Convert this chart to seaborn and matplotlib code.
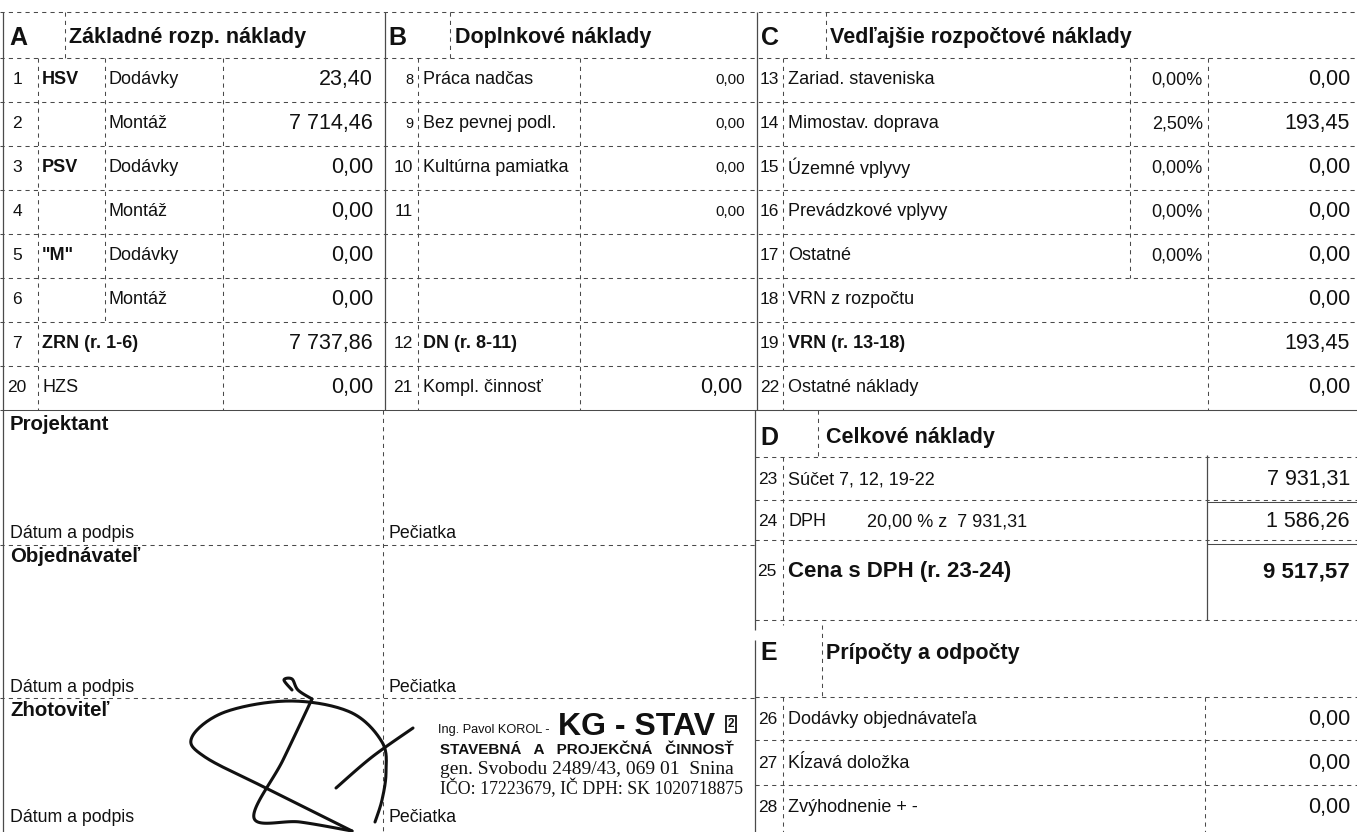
import numpy as np
import matplotlib
matplotlib.use("Agg")
import matplotlib.pyplot as plt
import seaborn as sns

A_NUM = ["1", "2", "3", "4", "5", "6", "7", "20"]
A_GROUP = ["HSV", "", "PSV", "", '"M"', "", "ZRN (r. 1-6)", "HZS"]
A_ITEM = ["Dodávky", "Montáž", "Dodávky", "Montáž", "Dodávky", "Montáž", "", ""]
A_VAL = [23.40, 7714.46, 0.00, 0.00, 0.00, 0.00, 7737.86, 0.00]

B_NUM = ["8", "9", "10", "11", "", "", "12", "21"]
B_LABEL = ["Práca nadčas", "Bez pevnej podl.", "Kultúrna pamiatka", "", "", "",
           "DN (r. 8-11)", "Kompl. činnosť"]
B_VAL = [0.00, 0.00, 0.00, 0.00, None, None, None, 0.00]

C_NUM = ["13", "14", "15", "16", "17", "18", "19", "22"]
C_LABEL = ["Zariad. staveniska", "Mimostav. doprava", "Územné vplyvy",
           "Prevádzkové vplyvy", "Ostatné", "VRN z rozpočtu", "VRN (r. 13-18)",
           "Ostatné náklady"]
C_PCT = [0.00, 2.50, 0.00, 0.00, 0.00, None, None, None]
C_VAL = [0.00, 193.45, 0.00, 0.00, 0.00, 0.00, 193.45, 0.00]

D_NUM = ["23", "24", "25"]
D_LABEL = ["Súčet 7, 12, 19-22", "DPH", "Cena s DPH (r. 23-24)"]
D_VAL = [7931.31, 1586.26, 9517.57]
DPH_RATE = 20.00

E_NUM = ["26", "27", "28"]
E_LABEL = ["Dodávky objednávateľa", "Kĺzavá doložka", "Zvýhodnenie + -"]
E_VAL = [0.00, 0.00, 0.00]

PARTIES = ["Projektant", "Objednávateľ", "Zhotoviteľ"]

# --- helpers ----------------------------------------------------------------
def fmt(v):
    return f"{v:,.2f}".replace(",", " ").replace(".", ",")

sns.set_theme(style="white")
plt.rcParams["font.family"] = ["Liberation Sans", "DejaVu Sans"]

fig = plt.figure(figsize=(13.57, 8.32), dpi=100)
ax = fig.add_axes([0, 0, 1, 1])
ax.set_xlim(0, 1357)
ax.set_ylim(832, 0)
ax.axis("off")

INK = "#111111"
LINE = "#4a4a4a"
DASH = (0, (4, 4))


def hline(y, x0, x1, solid=False, lw=0.75):
    ax.plot([x0, x1], [y, y], color=LINE, lw=lw,
            linestyle="-" if solid else DASH, solid_capstyle="butt")


def vline(x, y0, y1, solid=False, lw=0.75):
    ax.plot([x, x], [y0, y1], color=LINE, lw=lw,
            linestyle="-" if solid else DASH, solid_capstyle="butt")


def txt(x, y, s, size=13, bold=False, ha="left", **kw):
    ax.text(x, y, s, fontsize=size, fontweight="bold" if bold else "normal",
            ha=ha, va="center", color=INK, **kw)


# --- upper block: A, B, C ---------------------------------------------------
top, pitch = 58, 44
rows_y = [top + pitch * (i + 0.5) for i in range(len(A_NUM))]
bottom = top + pitch * len(A_NUM)

hline(12, 0, 1357)
hline(top, 0, 1357)
for i in range(1, len(A_NUM) + 1):
    hline(top + pitch * i, 0, 1357, solid=(i == len(A_NUM)))

vline(3, 12, 832, solid=True, lw=0.9)
vline(385, 12, bottom, solid=True, lw=0.9)
vline(757, 12, bottom, solid=True, lw=0.9)
# header separators
vline(65, 12, top)
vline(450, 12, top)
vline(826, 12, top)
# A columns
vline(38, top, bottom)
vline(105, top, top + pitch * 6)
vline(223, top, bottom)
# B columns
vline(418, top, bottom)
vline(580, top, bottom)
# C columns
vline(783, top, bottom)
vline(1130, top, top + pitch * 5)
vline(1208, top, bottom)

txt(9, 38, "A", size=18, bold=True)
txt(69, 38, "Základné rozp. náklady", size=15.5, bold=True)
txt(388, 38, "B", size=18, bold=True)
txt(455, 38, "Doplnkové náklady", size=15.5, bold=True)
txt(761, 38, "C", size=18, bold=True)
txt(830, 38, "Vedľajšie rozpočtové náklady", size=15.5, bold=True)

for i, y in enumerate(rows_y):
    # A
    txt(17, y, A_NUM[i], size=12.5, ha="center")
    txt(42, y, A_GROUP[i], size=13, bold=A_GROUP[i] not in ("", "HZS"))
    txt(109, y, A_ITEM[i], size=13)
    txt(373, y, fmt(A_VAL[i]), size=15.5, ha="right")
    # B
    small = B_NUM[i] in ("8", "9")
    txt(413, y, B_NUM[i], size=10.5 if small else 12.5, ha="right")
    txt(423, y, B_LABEL[i], size=13, bold=B_LABEL[i].startswith("DN"))
    if B_VAL[i] is not None:
        if B_NUM[i] == "21":
            txt(742, y, fmt(B_VAL[i]), size=15.5, ha="right")
        else:
            txt(745, y, fmt(B_VAL[i]), size=11, ha="right")
    # C
    txt(779, y, C_NUM[i], size=12.5, ha="right")
    txt(788, y, C_LABEL[i], size=13, bold=C_LABEL[i].startswith("VRN ("))
    if C_PCT[i] is not None:
        txt(1203, y, fmt(C_PCT[i]) + "%", size=13, ha="right")
    txt(1350, y, fmt(C_VAL[i]), size=15.5, ha="right")

# --- lower left: signatures -------------------------------------------------
party_y = [425, 557, 710]
date_y = [533, 688, 818]
vline(383, bottom, 832)
hline(545, 0, 757)
hline(698, 0, 757)
for name, y in zip(PARTIES, party_y):
    txt(10, y, name, size=14.7, bold=True)
for y in date_y:
    txt(10, y, "Dátum a podpis", size=12.8)
    txt(388, y, "Pečiatka", size=12.8)

# stamp
ax.text(438, 730, "Ing. Pavol KOROL -", fontsize=9.2, ha="left", va="center",
        color=INK)
ax.text(558, 727, "KG - STAV", fontsize=23, fontweight="bold", ha="left",
        va="center", color=INK)
ax.text(731, 724, "2", fontsize=8.5, fontweight="bold", ha="center", va="center",
        color=INK, bbox=dict(boxstyle="square,pad=0.15", fc="white", ec=INK, lw=1.3))
ax.text(440, 750, "STAVEBNÁ   A   PROJEKČNÁ   ČINNOSŤ", fontsize=11,
        fontweight="bold", ha="left", va="center", color=INK)
ax.text(440, 769, "gen. Svobodu 2489/43, 069 01  Snina", fontsize=14,
        ha="left", va="center", color=INK, family=["Liberation Serif", "DejaVu Serif"])
ax.text(440, 788, "IČO: 17223679, IČ DPH: SK 1020718875", fontsize=12.8,
        ha="left", va="center", color=INK, family=["Liberation Serif", "DejaVu Serif"])


def stroke(pts, n=30):
    # Catmull-Rom through the pen points of the hand signature
    p = np.array(pts, dtype=float)
    p = np.vstack([p[0], p, p[-1]])
    out = []
    for k in range(1, len(p) - 2):
        p0, p1, p2, p3 = p[k - 1], p[k], p[k + 1], p[k + 2]
        t = np.linspace(0, 1, n)[:, None]
        out.append(0.5 * ((2 * p1) + (-p0 + p2) * t + (2 * p0 - 5 * p1 + 4 * p2 - p3) * t ** 2
                          + (-p0 + 3 * p1 - 3 * p2 + p3) * t ** 3))
    out = np.vstack(out)
    ax.plot(out[:, 0], out[:, 1], color=INK, lw=2.2, solid_capstyle="round")


SIG_HOOK = [(292, 690), (284, 680), (292, 679), (298, 690), (312, 699)]
SIG_DOWN = [(312, 699), (283, 760), (254, 818), (300, 822), (352, 831)]
SIG_LOOP = [(352, 831), (270, 790), (205, 757), (192, 737), (225, 712),
            (290, 701), (350, 712), (382, 742), (386, 772), (382, 800), (375, 822)]
SIG_TAIL = [(336, 788), (372, 757), (413, 728)]
for s in (SIG_HOOK, SIG_DOWN, SIG_LOOP, SIG_TAIL):
    stroke(s)

# --- lower right: D and E ---------------------------------------------------
d_rows = [480, 522, 572]
e_rows = [720, 763, 808]
hline(bottom, 755, 1357, solid=True)
hline(457, 755, 1357)
hline(500, 755, 1357)
hline(540, 755, 1357)
hline(620, 755, 1357)
hline(502, 1207, 1357, solid=True)
hline(544, 1207, 1357, solid=True)
hline(697, 755, 1357)
hline(740, 755, 1357)
hline(785, 755, 1357)
vline(755, bottom, 630, solid=True, lw=0.9)
vline(755, 640, 832, solid=True, lw=0.9)
vline(818, bottom, 457)
vline(822, 625, 697)
vline(783, 457, 625)
vline(783, 697, 832)
vline(1207, 455, 620, solid=True, lw=0.9)
vline(1205, 697, 832)

txt(760, 438, "D", size=18, bold=True)
txt(826, 438, "Celkové náklady", size=15.5, bold=True)
for i, y in enumerate(d_rows):
    big = i == 2
    txt(777, y, D_NUM[i], size=12.5, ha="right")
    txt(788, y, D_LABEL[i], size=16 if big else 13, bold=big)
    txt(1350, y, fmt(D_VAL[i]), size=16 if big else 15.5, bold=big, ha="right")
txt(867, d_rows[1], f"{fmt(DPH_RATE)} % z  {fmt(D_VAL[0])}", size=13)

txt(760, 653, "E", size=18, bold=True)
txt(826, 653, "Prípočty a odpočty", size=15.5, bold=True)
for i, y in enumerate(e_rows):
    txt(777, y, E_NUM[i], size=12.5, ha="right")
    txt(788, y, E_LABEL[i], size=13)
    txt(1350, y, fmt(E_VAL[i]), size=15.5, ha="right")

fig.savefig("out.png", dpi=100, facecolor="white")
